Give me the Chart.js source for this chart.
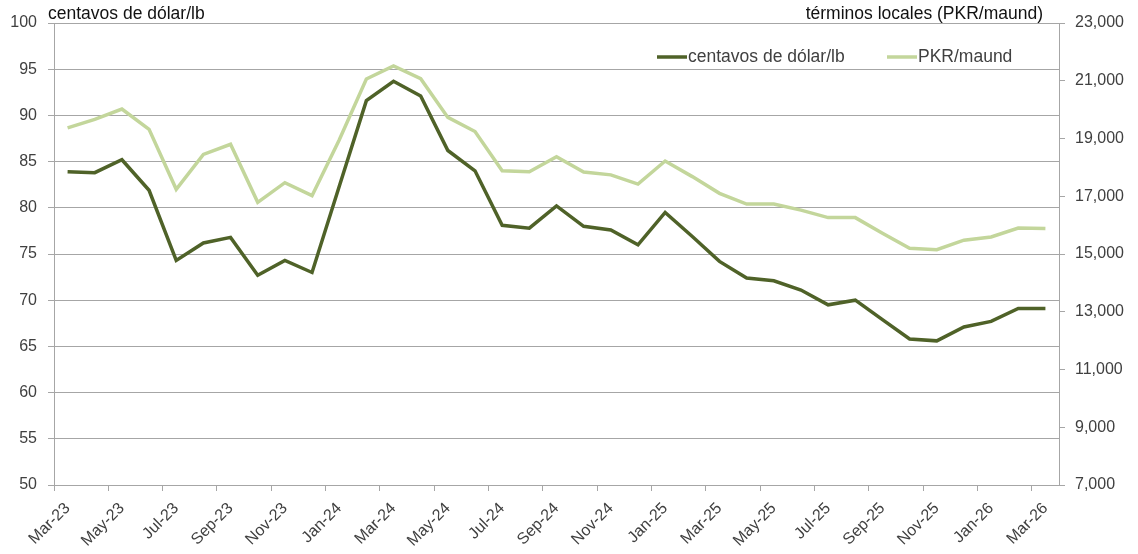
<!DOCTYPE html>
<html>
<head>
<meta charset="utf-8">
<script src="https://cdn.jsdelivr.net/npm/chart.js@4/dist/chart.umd.min.js"></script>
<style>
	html, body { margin: 0; padding: 0; background: #FFFFFF; }
	#wrap { position: relative; width: 1138px; height: 554px; }
</style>
</head>
<body>
<div id="wrap"><canvas id="chart"></canvas></div>
<script>
/*--------------------------------------------------------------------------------------------------------------------*/
/* DATA                                                                                                               */
/*--------------------------------------------------------------------------------------------------------------------*/

const months = [
	'Mar-23', 'Apr-23', 'May-23', 'Jun-23', 'Jul-23', 'Aug-23', 'Sep-23', 'Oct-23', 'Nov-23', 'Dec-23',
	'Jan-24', 'Feb-24', 'Mar-24', 'Apr-24', 'May-24', 'Jun-24', 'Jul-24', 'Aug-24', 'Sep-24', 'Oct-24', 'Nov-24', 'Dec-24',
	'Jan-25', 'Feb-25', 'Mar-25', 'Apr-25', 'May-25', 'Jun-25', 'Jul-25', 'Aug-25', 'Sep-25', 'Oct-25', 'Nov-25', 'Dec-25',
	'Jan-26', 'Feb-26', 'Mar-26',
];

const usCents = [
	83.9, 83.8, 85.2, 81.9, 74.3, 76.2, 76.8, 72.7, 74.3, 73.0,
	82.3, 91.6, 93.7, 92.1, 86.2, 84.0, 78.1, 77.8, 80.2, 78.0, 77.6, 76.0,
	79.5, 76.9, 74.2, 72.4, 72.1, 71.1, 69.5, 70.0, 67.9, 65.8, 65.6, 67.1,
	67.7, 69.1, 69.1,
];

const pkrMaund = [
	19370, 19660, 20020, 19320, 17240, 18450, 18800, 16790, 17470, 17020,
	18950, 21060, 21510, 21070, 19730, 19240, 17880, 17850, 18370, 17840, 17740, 17420,
	18220, 17680, 17100, 16730, 16730, 16520, 16260, 16260, 15720, 15200, 15150, 15480,
	15590, 15900, 15880,
];

const seriesNames = ['centavos de dólar/lb', 'PKR/maund'];
const seriesColors = ['#4F6228', '#C3D69B'];

const leftTitle = 'centavos de dólar/lb';
const rightTitle = 'términos locales (PKR/maund)';

/*--------------------------------------------------------------------------------------------------------------------*/

const FONT = '"Liberation Sans", Arial, sans-serif';
const GRID = '#A6A6A6';
const TEXT = '#404040';

/*--------------------------------------------------------------------------------------------------------------------*/
/* TITLES + LEGEND                                                                                                    */
/*--------------------------------------------------------------------------------------------------------------------*/

const overlay = {
	id: 'overlay',
	afterDraw: function(chart)
	{
		const ctx = chart.ctx;

		ctx.save();
		ctx.font = '17.5px ' + FONT;
		ctx.fillStyle = '#111111';
		ctx.textBaseline = 'alphabetic';

		ctx.textAlign = 'left';
		ctx.fillText(leftTitle, 48, 19);

		ctx.textAlign = 'right';
		ctx.fillText(rightTitle, 1043, 19);

		/*------------------------------------------------------------------------------------------------------------*/

		const legendX = [657, 887];

		ctx.textAlign = 'left';
		ctx.textBaseline = 'middle';
		ctx.fillStyle = TEXT;

		for(let i = 0; i < seriesNames.length; i++)
		{
			ctx.strokeStyle = seriesColors[i];
			ctx.lineWidth = 3.5;
			ctx.beginPath();
			ctx.moveTo(legendX[i], 57);
			ctx.lineTo(legendX[i] + 30, 57);
			ctx.stroke();

			ctx.fillText(seriesNames[i], legendX[i] + 31, 57);
		}

		ctx.restore();
	},
};

/*--------------------------------------------------------------------------------------------------------------------*/
/* CHART                                                                                                              */
/*--------------------------------------------------------------------------------------------------------------------*/

Chart.defaults.font.family = FONT;
Chart.defaults.color = TEXT;

new Chart(document.getElementById('chart').getContext('2d'), {
	type: 'line',
	data: {
		labels: months,
		datasets: [{
			label: seriesNames[0],
			data: usCents,
			yAxisID: 'y',
			borderColor: seriesColors[0],
			backgroundColor: seriesColors[0],
			borderWidth: 3.5,
			pointRadius: 0,
			tension: 0,
		}, {
			label: seriesNames[1],
			data: pkrMaund,
			yAxisID: 'y2',
			borderColor: seriesColors[1],
			backgroundColor: seriesColors[1],
			borderWidth: 3.5,
			pointRadius: 0,
			tension: 0,
		}],
	},
	options: {
		responsive: true,
		maintainAspectRatio: false,
		animation: false,
		layout: {
			padding: {top: 23, right: 0, bottom: 0, left: 0},
		},
		plugins: {
			legend: {display: false},
			tooltip: {enabled: false},
		},
		scales: {
			x: {
				offset: true,
				grid: {
					offset: true,
					drawOnChartArea: false,
					tickLength: 6,
					color: (c) => (c.index % 2 === 0 ? GRID : 'rgba(0,0,0,0)'),
				},
				border: {color: GRID, width: 1},
				ticks: {
					autoSkip: false,
					minRotation: 45,
					maxRotation: 45,
					padding: 8,
					font: {size: 16},
					color: TEXT,
					callback: function(value, index) {
						return index % 2 === 0 ? this.getLabelForValue(value) : '';
					},
				},
				afterFit: (s) => { s.height = 69; },
			},
			y: {
				position: 'left',
				min: 50,
				max: 100,
				grid: {color: GRID, lineWidth: 1, tickLength: 6},
				border: {color: GRID, width: 1},
				ticks: {stepSize: 5, padding: 11, font: {size: 16}, color: TEXT},
				afterFit: (s) => { s.width = 54; },
			},
			y2: {
				position: 'right',
				min: 7000,
				max: 23000,
				grid: {drawOnChartArea: false, color: GRID, tickLength: 6},
				border: {color: GRID, width: 1},
				ticks: {
					stepSize: 2000,
					padding: 10,
					font: {size: 16},
					color: TEXT,
					callback: (v) => v.toLocaleString('en-US'),
				},
				afterFit: (s) => { s.width = 79; },
			},
		},
	},
	plugins: [overlay],
});

/*--------------------------------------------------------------------------------------------------------------------*/
</script>
</body>
</html>
